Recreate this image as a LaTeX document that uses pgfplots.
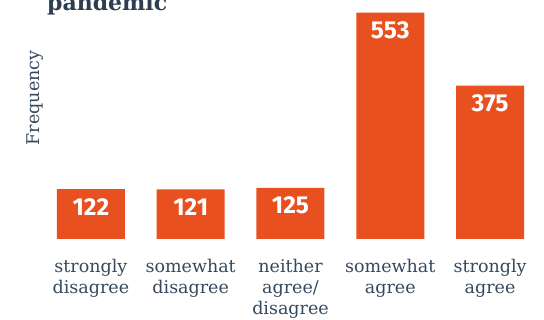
\documentclass[border=0pt]{standalone}
\usepackage{fontspec}
\setmainfont{DejaVu Serif}
\newfontfamily\numfont{Fira Sans}
\usepackage{pgfplots}
\pgfplotsset{compat=1.18}
\definecolor{barc}{HTML}{E8501F}
\definecolor{txt}{HTML}{34495E}
\definecolor{ttl}{HTML}{2C3E50}
\begin{document}
\begin{tikzpicture}
\path[use as bounding box] (-41pt,-81pt) rectangle (503pt,239pt);
\begin{axis}[
  at={(0,0)}, anchor=south west,
  scale only axis, width=499pt, height=239pt,
  xmin=-0.5, xmax=4.5, ymin=0, ymax=584,
  enlargelimits=false,
  axis line style={draw=none},
  major tick style={draw=none},
  ytick=\empty,
  xtick={0,1,2,3,4},
  xticklabels={{strongly\\disagree},{somewhat\\disagree},{neither\\agree/\\disagree},{somewhat\\agree},{strongly\\agree}},
  xticklabel style={font=\fontsize{17.5}{21}\selectfont, text=txt, align=center, anchor=north, inner sep=0pt, yshift=-16pt},
  ybar, bar width=68pt,
  /pgf/number format/assume math mode=true,
  nodes near coords,
  nodes near coords style={anchor=north, inner sep=0pt, yshift=-9pt, text=white, font=\numfont\bfseries\fontsize{24.5}{26}\selectfont},
  clip=false,
]
\addplot[fill=barc, draw=none] coordinates {(0,122) (1,121) (2,125) (3,553) (4,375)};
\end{axis}
\node[rotate=90, text=txt, font=\fontsize{17.5}{20}\selectfont] at (-6pt,141pt) {Frequency};
\node[anchor=base west, inner sep=0pt, text=ttl, font=\bfseries\fontsize{22}{24}\selectfont] at (6pt,228.5pt) {pandemic};
\end{tikzpicture}
\end{document}
